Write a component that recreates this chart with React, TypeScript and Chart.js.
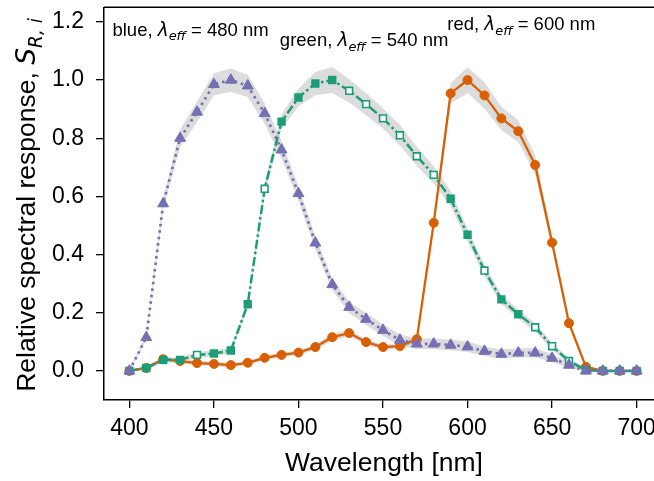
import React, { useEffect, useRef } from 'react';
import { Chart, registerables } from 'chart.js';

Chart.register(...registerables);

// ---------- data ----------
const wavelengths = [400, 410, 420, 430, 440, 450, 460, 470, 480, 490, 500, 510, 520, 530, 540, 550, 560, 570, 580, 590, 600, 610, 620, 630, 640, 650, 660, 670, 680, 690, 700];

const blueResponse = [0.0, 0.115, 0.575, 0.8, 0.89, 0.985, 1.0, 0.98, 0.885, 0.76, 0.61, 0.44, 0.297, 0.219, 0.178, 0.14, 0.106, 0.093, 0.093, 0.089, 0.083, 0.068, 0.058, 0.062, 0.062, 0.044, 0.02, 0.0, 0.0, 0.0, 0.0];
const greenResponse = [0.0, 0.01, 0.038, 0.038, 0.055, 0.06, 0.07, 0.229, 0.626, 0.857, 0.94, 0.988, 1.0, 0.963, 0.917, 0.868, 0.81, 0.738, 0.674, 0.592, 0.468, 0.345, 0.246, 0.195, 0.15, 0.085, 0.034, 0.003, 0.0, 0.0, 0.0];
const redResponse = [0.0, 0.01, 0.04, 0.034, 0.027, 0.024, 0.02, 0.028, 0.045, 0.055, 0.063, 0.082, 0.116, 0.13, 0.099, 0.082, 0.085, 0.109, 0.509, 0.954, 1.0, 0.947, 0.868, 0.824, 0.708, 0.441, 0.164, 0.014, 0.0, 0.0, 0.0];

// half-width of the grey uncertainty band
const blueSpread = [0.005, 0.01, 0.018, 0.03, 0.035, 0.038, 0.04, 0.038, 0.035, 0.03, 0.025, 0.022, 0.02, 0.02, 0.02, 0.02, 0.02, 0.018, 0.018, 0.018, 0.018, 0.016, 0.016, 0.016, 0.016, 0.014, 0.01, 0.005, 0.003, 0.003, 0.003];
const greenSpread = [0.004, 0.006, 0.008, 0.008, 0.01, 0.01, 0.01, 0.012, 0.02, 0.025, 0.03, 0.04, 0.045, 0.04, 0.038, 0.035, 0.035, 0.033, 0.03, 0.027, 0.022, 0.02, 0.017, 0.015, 0.015, 0.012, 0.01, 0.005, 0.003, 0.003, 0.003];
const redSpread = [0.004, 0.006, 0.008, 0.008, 0.008, 0.008, 0.008, 0.008, 0.008, 0.008, 0.008, 0.01, 0.012, 0.012, 0.01, 0.01, 0.01, 0.01, 0.02, 0.035, 0.045, 0.045, 0.04, 0.038, 0.033, 0.02, 0.01, 0.005, 0.003, 0.003, 0.003];

const greenHollowAt = [440, 480, 530, 540, 550, 560, 570, 580, 610, 640, 650, 660];

const xTicks = [400, 450, 500, 550, 600, 650, 700];
const yTicks = [0.0, 0.2, 0.4, 0.6, 0.8, 1.0, 1.2];

const xTitle = 'Wavelength [nm]';
const yTitleMain = 'Relative spectral response, ';
const yTitleSymbol = 'S';
const yTitleSub = 'R, i';

const bandLabels = [
  { name: 'blue', lambda: '480', atX: 390, atY: 1.152 },
  { name: 'green', lambda: '540', atX: 489, atY: 1.117 },
  { name: 'red', lambda: '600', atX: 588, atY: 1.171 },
];

// ---------- styles ----------
const COLORS = { blue: '#7570b3', green: '#1b9e77', red: '#d95f02' };
const BAND = 'rgba(150,150,150,0.33)';
const SANS = '"Liberation Sans", Arial, sans-serif';
const MATH = '"DejaVu Sans", sans-serif';

type Part = { t: string; italic?: boolean; math?: boolean; sub?: boolean };

function partFont(p: Part, size: number) {
  const s = p.sub ? size * 0.7 : size;
  return `${p.italic ? 'italic ' : ''}${s}px ${p.math ? MATH : SANS}`;
}

function richWidth(ctx: CanvasRenderingContext2D, parts: Part[], size: number) {
  let w = 0;
  for (const p of parts) {
    ctx.font = partFont(p, size);
    w += ctx.measureText(p.t).width;
  }
  return w;
}

function drawRich(ctx: CanvasRenderingContext2D, parts: Part[], x: number, y: number, size: number) {
  let cx = x;
  for (const p of parts) {
    ctx.font = partFont(p, size);
    ctx.fillText(p.t, cx, y + (p.sub ? size * 0.25 : 0));
    cx += ctx.measureText(p.t).width;
  }
}

const decorPlugin = {
  id: 'decor',
  afterDraw(chart: any) {
    const { ctx, chartArea: a, scales } = chart;
    ctx.save();
    // top and right spines
    ctx.strokeStyle = '#000';
    ctx.lineWidth = 1.5;
    ctx.beginPath();
    ctx.moveTo(a.left, a.top);
    ctx.lineTo(a.right, a.top);
    ctx.lineTo(a.right, a.bottom);
    ctx.stroke();

    ctx.fillStyle = '#000';
    ctx.textBaseline = 'alphabetic';
    ctx.textAlign = 'left';

    // x title
    const xs = 26.5;
    ctx.font = `${xs}px ${SANS}`;
    const xw = ctx.measureText(xTitle).width;
    ctx.fillText(xTitle, (a.left + a.right) / 2 - xw / 2 + 1, 471);

    // y title (rotated)
    const yParts: Part[] = [
      { t: yTitleMain },
      { t: yTitleSymbol, italic: true, math: true },
      { t: yTitleSub, italic: true, math: true, sub: true },
    ];
    const ys = 26.5;
    const yw = richWidth(ctx, yParts, ys);
    ctx.save();
    ctx.translate(35, 205);
    ctx.rotate(-Math.PI / 2);
    drawRich(ctx, yParts, -yw / 2, 0, ys);
    ctx.restore();

    // band labels
    const fs = 18.5;
    for (const b of bandLabels) {
      const parts: Part[] = [
        { t: `${b.name}, ` },
        { t: 'λ', italic: true, math: true },
        { t: 'eff', italic: true, math: true, sub: true },
        { t: ` = ${b.lambda} nm` },
      ];
      const px = scales.x.getPixelForValue(b.atX);
      const py = scales.y.getPixelForValue(b.atY);
      drawRich(ctx, parts, px, py, fs);
    }
    ctx.restore();
  },
};

function pts(vals: number[], spread?: number[], sign = 0) {
  return wavelengths.map((w, i) => ({ x: w, y: vals[i] + (spread ? sign * spread[i] : 0) }));
}

const noPad = (s: any) => {
  s.paddingTop = 0;
  s.paddingBottom = 0;
  s.paddingLeft = 0;
  s.paddingRight = 0;
};

export default function App() {
  const ref = useRef<HTMLCanvasElement | null>(null);

  useEffect(() => {
    if (!ref.current) return;
    const bandPair = (vals: number[], spread: number[]) => [
      { data: pts(vals, spread, -1), borderWidth: 0, pointRadius: 0, fill: false, order: 10, borderColor: 'transparent' },
      { data: pts(vals, spread, 1), borderWidth: 0, pointRadius: 0, fill: '-1', backgroundColor: BAND, order: 10, borderColor: 'transparent' },
    ];
    const greenFaces = wavelengths.map((w) => (greenHollowAt.includes(w) ? '#ffffff' : COLORS.green));

    const chart = new Chart(ref.current, {
      type: 'line',
      data: {
        datasets: [
          ...bandPair(blueResponse, blueSpread),
          ...bandPair(greenResponse, greenSpread),
          ...bandPair(redResponse, redSpread),
          {
            data: pts(redResponse),
            borderColor: COLORS.red,
            backgroundColor: COLORS.red,
            borderWidth: 2.3,
            pointStyle: 'circle',
            pointRadius: 4.5,
            pointBorderWidth: 1,
            pointBackgroundColor: COLORS.red,
            pointBorderColor: COLORS.red,
            tension: 0,
            fill: false,
            order: 2,
          },
          {
            data: pts(greenResponse),
            borderColor: COLORS.green,
            backgroundColor: COLORS.green,
            borderWidth: 2.5,
            borderDash: [9, 3, 2.5, 3],
            pointStyle: 'rect',
            pointRadius: 4.8,
            pointBorderWidth: 1.6,
            pointBackgroundColor: greenFaces,
            pointBorderColor: COLORS.green,
            tension: 0,
            fill: false,
            order: 1,
          },
          {
            data: pts(blueResponse),
            borderColor: COLORS.blue,
            backgroundColor: COLORS.blue,
            borderWidth: 2.7,
            borderDash: [2.5, 4],
            pointStyle: 'triangle',
            pointRadius: 6.3,
            pointBorderWidth: 1,
            pointBackgroundColor: COLORS.blue,
            pointBorderColor: COLORS.blue,
            tension: 0,
            fill: false,
            order: 0,
          },
        ] as any,
      },
      options: {
        animation: false,
        responsive: false,
        devicePixelRatio: 1,
        layout: { padding: { top: 4, right: 38, left: 0, bottom: 0 } },
        plugins: { legend: { display: false }, tooltip: { enabled: false } },
        scales: {
          x: {
            type: 'linear',
            min: 385,
            max: 715,
            afterFit: (s: any) => { s.height = 81; noPad(s); },
            afterBuildTicks: (s: any) => { s.ticks = xTicks.map((v) => ({ value: v })); },
            grid: { drawOnChartArea: false, drawTicks: true, tickLength: 8, color: '#000', lineWidth: 1.3 },
            border: { display: true, color: '#000', width: 1.5 },
            ticks: {
              color: '#000',
              font: { family: SANS, size: 23 },
              padding: 7,
              maxRotation: 0,
              autoSkip: false,
              callback: (v: any) => String(v),
            },
          },
          y: {
            type: 'linear',
            min: -0.1,
            max: 1.25,
            afterFit: (s: any) => { s.width = 104; noPad(s); },
            afterBuildTicks: (s: any) => { s.ticks = yTicks.map((v) => ({ value: v })); },
            grid: { drawOnChartArea: false, drawTicks: true, tickLength: 8, color: '#000', lineWidth: 1.3 },
            border: { display: true, color: '#000', width: 1.5 },
            ticks: {
              color: '#000',
              font: { family: SANS, size: 23 },
              padding: 12,
              autoSkip: false,
              callback: (v: any) => Number(v).toFixed(1),
            },
          },
        },
      } as any,
      plugins: [decorPlugin],
    });
    return () => chart.destroy();
  }, []);

  return (
    <div style={{ position: 'fixed', left: 0, top: 0, width: 654, height: 481, overflow: 'hidden', background: '#fff' }}>
      <canvas ref={ref} width={700} height={481} style={{ width: 700, height: 481, display: 'block' }} />
    </div>
  );
}
